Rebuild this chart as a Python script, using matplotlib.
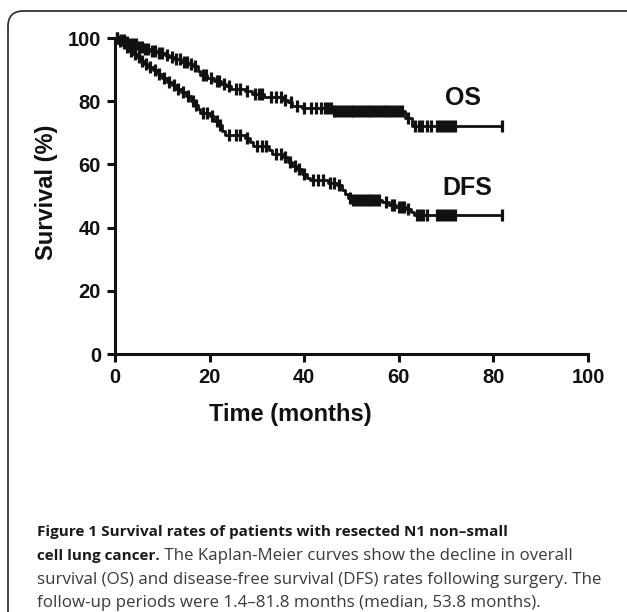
import numpy as np
import matplotlib
matplotlib.use("Agg")
import matplotlib.pyplot as plt
from matplotlib.patches import FancyBboxPatch

# ---------------- data ----------------
os_times = [0, 1.0, 2.0, 3.0, 4.5, 6.0, 7.5, 9.0, 10.5, 11.5, 12.5, 14.0, 15.5, 16.5,
            17.5, 18.0, 19.5, 21.0, 22.5, 23.5, 24.5, 27.5, 29.0, 31.5, 35.5, 36.5,
            37.5, 39.5, 46.0, 61.3, 62.8]
os_surv = [100, 99.3, 98.6, 98.0, 97.3, 96.6, 96.0, 95.3, 94.6, 93.9, 93.2, 92.5, 91.8, 91.0,
           89.5, 88.2, 87.4, 86.5, 85.6, 84.7, 83.9, 83.1, 82.2, 81.4, 80.5, 79.6,
           78.5, 77.7, 77.0, 74.7, 72.0]
os_end = 81.8
os_censor = [0.5, 1.2, 1.8, 2.5, 3.2, 3.8, 4.4, 5.0, 5.7, 6.3, 7.0, 7.8, 8.5, 9.3, 10.0,
             11.0, 12.0, 13.0, 13.8, 14.6, 15.3, 16.0, 17.0, 18.5, 19.2, 20.2, 21.5, 22.0,
             23.0, 24.0, 25.5, 26.5, 28.0, 29.5, 30.5, 31.0, 33.0, 34.0, 35.0, 36.0, 37.2,
             38.5, 40.0, 41.5, 42.5, 43.5, 44.5, 45.0, 45.6, 46.2, 46.8, 47.4, 48.0, 48.6,
             49.2, 49.8, 50.4, 51.0, 51.6, 52.2, 52.8, 53.4, 54.0, 54.6, 55.2, 55.8, 56.4,
             57.0, 57.6, 58.2, 58.8, 59.4, 60.0, 60.6, 62.0, 63.5, 64.2, 65.0, 66.0, 66.8,
             68.0, 68.8, 69.4, 70.0, 70.6, 71.2, 71.8, 81.8]

dfs_times = [0, 0.8, 1.5, 2.2, 3.0, 3.8, 4.6, 5.4, 6.2, 7.0, 8.0, 9.0, 10.0, 11.0, 12.0,
             13.0, 14.0, 15.0, 16.0, 16.8, 17.5, 18.0, 20.0, 21.0, 22.0, 22.6, 23.2,
             27.5, 28.5, 29.2, 32.5, 33.2, 35.5, 36.5, 37.5, 38.5, 39.5, 40.5, 41.2,
             45.0, 47.0, 48.0, 48.6, 49.2, 50.0, 56.5, 58.0, 59.5, 61.5, 62.5, 63.2]
dfs_surv = [100, 99.2, 98.4, 97.2, 96.0, 95.0, 94.0, 92.8, 91.8, 90.8, 89.8, 88.6, 87.4,
            86.2, 85.0, 84.0, 82.8, 81.6, 80.2, 78.8, 77.4, 76.2, 75.2, 73.8, 72.4, 70.6,
            69.4, 68.4, 67.0, 65.8, 64.6, 63.2, 62.2, 60.8, 59.6, 58.4, 57.0, 55.8, 55.0,
            54.2, 53.4, 51.8, 50.6, 49.4, 48.8, 48.0, 47.2, 46.6, 46.0, 45.0, 44.0]
dfs_end = 81.8
dfs_censor = [0.4, 1.1, 1.9, 2.6, 3.4, 4.2, 5.0, 5.8, 6.6, 7.4, 8.4, 9.4, 10.4, 11.4,
              12.4, 13.4, 14.4, 15.4, 16.4, 17.2, 18.6, 19.4, 20.5, 21.5, 22.3, 24.0,
              25.5, 26.5, 28.0, 30.0, 31.0, 32.0, 34.0, 35.0, 36.0, 37.0, 38.0, 39.0,
              40.0, 41.8, 43.0, 44.0, 45.5, 46.2, 47.4, 49.6, 50.4, 51.0, 51.6, 52.2,
              52.8, 53.4, 54.0, 54.6, 55.2, 55.8, 57.2, 58.6, 59.0, 60.0, 60.6, 61.0,
              62.0, 63.8, 64.4, 65.2, 66.0, 68.0, 68.8, 69.4, 70.0, 70.6, 71.2, 71.8, 81.8]

x_ticks = [0, 20, 40, 60, 80, 100]
y_ticks = [0, 20, 40, 60, 80, 100]

caption_bold_1 = "Figure 1 Survival rates of patients with resected N1 non\u2013small"
caption_bold_2 = "cell lung cancer."
caption_reg_2 = " The Kaplan-Meier curves show the decline in overall"
caption_reg_3 = "survival (OS) and disease-free survival (DFS) rates following surgery. The"
caption_reg_4 = "follow-up periods were 1.4\u201381.8 months (median, 53.8 months)."

# ---------------- figure ----------------
W, H = 627, 612
fig = plt.figure(figsize=(W / 100, H / 100), dpi=100)

# rounded frame
frame = FancyBboxPatch((8 / W, (H - 700) / H), 700 / W, (700 - 11) / H,
                       boxstyle="round,pad=0,rounding_size=0.025",
                       transform=fig.transFigure, facecolor="none",
                       edgecolor="#333333", linewidth=1.3, zorder=0)
fig.patches.append(frame)

ax = fig.add_axes([115 / W, 1 - 354 / H, 473 / W, 316 / H])
ax.set_xlim(0, 100)
ax.set_ylim(0, 100)

lw_curve = 2.0
col = "#111111"


def draw_curve(times, surv, end, censor):
    t = list(times) + [end]
    s = list(surv) + [surv[-1]]
    ax.step(t, s, where="post", color=col, lw=lw_curve, clip_on=False, zorder=3)
    ct = np.array(censor)
    idx = np.searchsorted(np.array(times), ct, side="right") - 1
    cs = np.array(surv)[idx]
    ax.plot(ct, cs, linestyle="none", marker="|", markersize=8.5, mew=2.3,
            color=col, clip_on=False, zorder=3)


draw_curve(os_times, os_surv, os_end, os_censor)
draw_curve(dfs_times, dfs_surv, dfs_end, dfs_censor)

bold_font = "Liberation Sans"
ax.text(73.6, 81, "OS", fontsize=18, fontweight="bold", family=bold_font,
        ha="center", va="center", color=col)
ax.text(74.4, 52.5, "DFS", fontsize=18, fontweight="bold", family=bold_font,
        ha="center", va="center", color=col)

for sp in ["top", "right"]:
    ax.spines[sp].set_visible(False)
for sp in ["left", "bottom"]:
    ax.spines[sp].set_linewidth(2.2)
    ax.spines[sp].set_color(col)
ax.set_xticks(x_ticks)
ax.set_yticks(y_ticks)
ax.tick_params(direction="out", length=6, width=2.2, color=col, pad=4)
for lab in ax.get_xticklabels() + ax.get_yticklabels():
    lab.set_fontfamily(bold_font)
    lab.set_fontweight("bold")
    lab.set_fontsize(14.5)
    lab.set_color(col)
ax.patch.set_visible(False)

fig.text(290 / W, 1 - 414 / H, "Time (months)", fontsize=17, fontweight="bold",
         family=bold_font, ha="center", va="center", color=col)
fig.text(47 / W, 1 - 192 / H, "Survival (%)", fontsize=17, fontweight="bold",
         family=bold_font, ha="center", va="center", rotation=90, color=col)

# caption
cap_font = "Open Sans"
cap_bold_font = "Open Sans"
cap_size = 12.2
cap_bold_size = 11.0
x0 = 37 / W
ys = [532, 556, 580, 603]
fig.text(x0, 1 - ys[0] / H, caption_bold_1, fontsize=cap_bold_size, fontweight="bold",
         family=cap_bold_font, ha="left", va="center", color="#1a1a1a")
t2 = fig.text(x0, 1 - ys[1] / H, caption_bold_2, fontsize=cap_bold_size, fontweight="bold",
              family=cap_bold_font, ha="left", va="center", color="#1a1a1a")
renderer = fig.canvas.get_renderer()
bb = t2.get_window_extent(renderer=renderer)
fig.text(bb.x1 / W, 1 - ys[1] / H, caption_reg_2, fontsize=cap_size,
         family=cap_font, ha="left", va="center", color="#3a3a3a")
fig.text(x0, 1 - ys[2] / H, caption_reg_3, fontsize=cap_size,
         family=cap_font, ha="left", va="center", color="#3a3a3a")
fig.text(x0, 1 - ys[3] / H, caption_reg_4, fontsize=cap_size,
         family=cap_font, ha="left", va="center", color="#3a3a3a")

fig.savefig("out.png", dpi=100)
